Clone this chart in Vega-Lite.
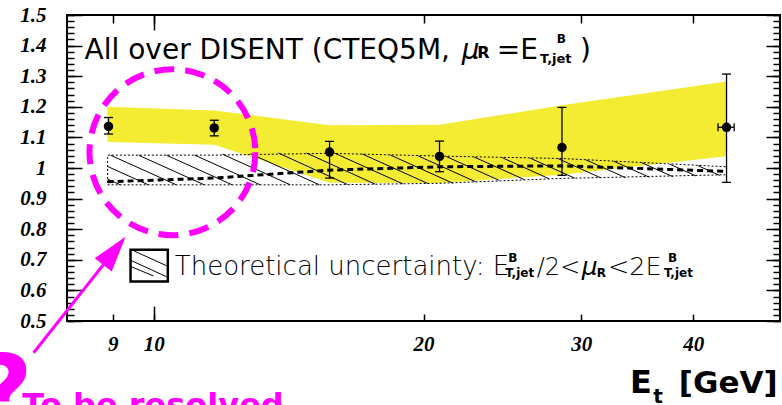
{
  "$schema": "https://vega.github.io/schema/vega-lite/v6.json",
  "width": 713,
  "height": 306,
  "autosize": {"type": "none"},
  "padding": {"left": 67, "top": 15, "right": 2, "bottom": 84},
  "background": "white",
  "config": {
    "view": {"stroke": "black", "strokeWidth": 2}
  },
  "resolve": {"axis": {"x": "independent", "y": "independent"}},
  "layer": [
    {
      "data": {"values": [
        {"et": 8.88, "lo": 1.085, "hi": 1.2},
        {"et": 11.68, "lo": 1.076, "hi": 1.188},
        {"et": 15.71, "lo": 0.952, "hi": 1.14},
        {"et": 20.84, "lo": 0.951, "hi": 1.141},
        {"et": 28.55, "lo": 0.978, "hi": 1.205},
        {"et": 43.58, "lo": 1.038, "hi": 1.283}
      ]},
      "mark": {"type": "area", "color": "#f4ec32", "opacity": 1},
      "encoding": {
        "x": {"field": "et", "type": "quantitative", "scale": {"type": "log", "domain": [8, 50], "nice": false, "zero": false},
              "axis": {"orient": "bottom", "values": [9, 10, 20, 30, 40], "format": "~g", "tickSize": -7, "tickWidth": 1.5, "tickColor": "black", "labelPadding": 19, "title": null, "grid": false, "domain": false, "labelFont": "Liberation Serif", "labelFontWeight": "bold", "labelFontStyle": "italic", "labelFontSize": 21, "labelColor": "black", "labelFlush": false, "labelOverlap": false, "labelBound": false}},
        "y": {"field": "lo", "type": "quantitative", "scale": {"domain": [0.5, 1.5], "nice": false, "zero": false},
              "axis": {"orient": "left", "values": [0.5, 0.6, 0.7, 0.8, 0.9, 1, 1.1, 1.2, 1.3, 1.4, 1.5], "format": "~g", "tickSize": -15, "tickWidth": 1.5, "tickColor": "black", "labelPadding": 36, "labelBaseline": "middle", "title": null, "grid": false, "domain": false, "labelFont": "Liberation Serif", "labelFontWeight": "bold", "labelFontStyle": "italic", "labelFontSize": 21, "labelColor": "black", "labelFlush": false, "labelOverlap": false, "labelBound": false}},
        "y2": {"field": "hi"}
      }
    },
    {
      "data": {"values": [
        {"x1": 8.879, "y1": 0.9637, "x2": 9.171, "y2": 0.9454},
        {"x1": 8.879, "y1": 1.0051, "x2": 9.855, "y2": 0.9454},
        {"x1": 8.948, "y1": 1.0418, "x2": 10.589, "y2": 0.9454},
        {"x1": 9.615, "y1": 1.0418, "x2": 11.378, "y2": 0.9454},
        {"x1": 10.331, "y1": 1.0418, "x2": 12.226, "y2": 0.9454},
        {"x1": 11.101, "y1": 1.0425, "x2": 13.138, "y2": 0.9454},
        {"x1": 11.929, "y1": 1.0451, "x2": 14.197, "y2": 0.9454},
        {"x1": 12.818, "y1": 1.0467, "x2": 15.298, "y2": 0.9454},
        {"x1": 13.773, "y1": 1.049, "x2": 16.438, "y2": 0.9464},
        {"x1": 14.8, "y1": 1.049, "x2": 17.668, "y2": 0.9471},
        {"x1": 15.902, "y1": 1.049, "x2": 18.97, "y2": 0.948},
        {"x1": 17.088, "y1": 1.0458, "x2": 20.222, "y2": 0.9493},
        {"x1": 18.361, "y1": 1.0425, "x2": 21.569, "y2": 0.9503},
        {"x1": 19.73, "y1": 1.0395, "x2": 22.857, "y2": 0.9552},
        {"x1": 21.201, "y1": 1.0376, "x2": 24.272, "y2": 0.9601},
        {"x1": 22.781, "y1": 1.0359, "x2": 25.901, "y2": 0.9624},
        {"x1": 24.478, "y1": 1.034, "x2": 27.61, "y2": 0.965},
        {"x1": 26.303, "y1": 1.0324, "x2": 29.501, "y2": 0.9667},
        {"x1": 28.263, "y1": 1.0307, "x2": 31.514, "y2": 0.9683},
        {"x1": 30.37, "y1": 1.0265, "x2": 33.62, "y2": 0.9683},
        {"x1": 32.633, "y1": 1.0219, "x2": 35.729, "y2": 0.9699},
        {"x1": 35.065, "y1": 1.017, "x2": 37.96, "y2": 0.9716},
        {"x1": 37.679, "y1": 1.0124, "x2": 40.3, "y2": 0.9739},
        {"x1": 40.487, "y1": 1.0078, "x2": 42.818, "y2": 0.9758}
      ]},
      "mark": {"type": "rule", "color": "black", "strokeWidth": 1},
      "encoding": {
        "x": {"field": "x1", "type": "quantitative", "scale": {"type": "log", "domain": [8, 50], "nice": false, "zero": false},
              "axis": {"orient": "bottom", "values": [10], "tickSize": -15, "tickWidth": 1.5, "tickColor": "black", "labels": false, "title": null, "grid": false, "domain": false}},
        "y": {"field": "y1", "type": "quantitative", "scale": {"domain": [0.5, 1.5], "nice": false, "zero": false},
              "axis": {"orient": "left", "values": [0.5,0.52,0.54,0.56,0.58,0.6,0.62,0.64,0.66,0.68,0.7,0.72,0.74,0.76,0.78,0.8,0.82,0.84,0.86,0.88,0.9,0.92,0.94,0.96,0.98,1,1.02,1.04,1.06,1.08,1.1,1.12,1.14,1.16,1.18,1.2,1.22,1.24,1.26,1.28,1.3,1.32,1.34,1.36,1.38,1.4,1.42,1.44,1.46,1.48,1.5], "tickSize": -7, "tickWidth": 1.5, "tickColor": "black", "labels": false, "title": null, "grid": false, "domain": false}},
        "x2": {"field": "x2"},
        "y2": {"field": "y2"}
      }
    },
    {
      "data": {"values": [
        {"et": 8.88, "lo": 0.945, "hi": 1.042},
        {"et": 11.68, "lo": 0.945, "hi": 1.042},
        {"et": 15.71, "lo": 0.945, "hi": 1.048},
        {"et": 20.84, "lo": 0.95, "hi": 1.039},
        {"et": 28.55, "lo": 0.966, "hi": 1.031},
        {"et": 43.58, "lo": 0.978, "hi": 1.004}
      ]},
      "mark": {"type": "area", "fill": "white", "fillOpacity": 0, "stroke": "black", "strokeWidth": 1, "strokeDash": [2, 2]},
      "encoding": {
        "x": {"field": "et", "type": "quantitative", "scale": {"type": "log", "domain": [8, 50], "nice": false, "zero": false},
              "axis": {"orient": "top", "values": [9, 10, 20, 30, 40], "tickSize": -8, "tickWidth": 1.5, "tickColor": "black", "labels": false, "title": null, "grid": false, "domain": false}},
        "y": {"field": "lo", "type": "quantitative", "scale": {"domain": [0.5, 1.5], "nice": false, "zero": false},
              "axis": {"orient": "right", "values": [0.5, 0.6, 0.7, 0.8, 0.9, 1, 1.1, 1.2, 1.3, 1.4, 1.5], "tickSize": -14, "tickWidth": 1.5, "tickColor": "black", "labels": false, "title": null, "grid": false, "domain": false}},
        "y2": {"field": "hi"}
      }
    },
    {
      "data": {"values": [
        {"et": 8.88, "c": 0.955},
        {"et": 11.68, "c": 0.967},
        {"et": 15.71, "c": 0.993},
        {"et": 20.84, "c": 1.004},
        {"et": 28.55, "c": 1.007},
        {"et": 43.58, "c": 0.989}
      ]},
      "mark": {"type": "line", "color": "black", "strokeWidth": 3, "strokeDash": [6, 4]},
      "encoding": {
        "x": {"field": "et", "type": "quantitative", "scale": {"type": "log", "domain": [8, 50], "nice": false, "zero": false},
              "axis": {"orient": "top", "values": [10], "tickSize": -15, "tickWidth": 1.5, "tickColor": "black", "labels": false, "title": null, "grid": false, "domain": false}},
        "y": {"field": "c", "type": "quantitative", "scale": {"domain": [0.5, 1.5], "nice": false, "zero": false},
              "axis": {"orient": "right", "values": [0.5,0.52,0.54,0.56,0.58,0.6,0.62,0.64,0.66,0.68,0.7,0.72,0.74,0.76,0.78,0.8,0.82,0.84,0.86,0.88,0.9,0.92,0.94,0.96,0.98,1,1.02,1.04,1.06,1.08,1.1,1.12,1.14,1.16,1.18,1.2,1.22,1.24,1.26,1.28,1.3,1.32,1.34,1.36,1.38,1.4,1.42,1.44,1.46,1.48,1.5], "tickSize": -7, "tickWidth": 1.5, "tickColor": "black", "labels": false, "title": null, "grid": false, "domain": false}}
      }
    },
    {
      "mark": {"type": "rule", "color": "black", "strokeWidth": 2.5},
      "encoding": {
        "y": {"datum": 1, "type": "quantitative", "scale": {"domain": [0.5, 1.5], "nice": false, "zero": false}, "axis": null}
      }
    },
    {
      "data": {"name": "pts", "values": [
        {"et": 8.9, "r": 1.136, "lo": 1.111, "hi": 1.165},
        {"et": 11.68, "r": 1.131, "lo": 1.105, "hi": 1.156},
        {"et": 15.71, "r": 1.052, "lo": 0.967, "hi": 1.087},
        {"et": 20.84, "r": 1.038, "lo": 0.988, "hi": 1.088},
        {"et": 28.55, "r": 1.067, "lo": 0.976, "hi": 1.198},
        {"et": 43.58, "r": 1.133, "lo": 0.953, "hi": 1.307, "xlo": 42.64, "xhi": 44.44}
      ]},
      "layer": [
        {
          "mark": {"type": "rule", "color": "black", "strokeWidth": 1.3},
          "encoding": {
            "x": {"field": "et", "type": "quantitative", "scale": {"type": "log", "domain": [8, 50], "nice": false, "zero": false}, "axis": null},
            "y": {"field": "lo", "type": "quantitative", "scale": {"domain": [0.5, 1.5], "nice": false, "zero": false}, "axis": null},
            "y2": {"field": "hi"}
          }
        },
        {
          "mark": {"type": "tick", "orient": "horizontal", "size": 9, "thickness": 1.3, "color": "black", "opacity": 1},
          "encoding": {
            "x": {"field": "et", "type": "quantitative", "axis": null},
            "y": {"field": "lo", "type": "quantitative", "axis": null}
          }
        },
        {
          "mark": {"type": "tick", "orient": "horizontal", "size": 9, "thickness": 1.3, "color": "black", "opacity": 1},
          "encoding": {
            "x": {"field": "et", "type": "quantitative", "axis": null},
            "y": {"field": "hi", "type": "quantitative", "axis": null}
          }
        },
        {
          "transform": [{"filter": "isValid(datum.xlo)"}],
          "mark": {"type": "rule", "color": "black", "strokeWidth": 1.3},
          "encoding": {
            "x": {"field": "xlo", "type": "quantitative", "axis": null},
            "x2": {"field": "xhi"},
            "y": {"field": "r", "type": "quantitative", "axis": null}
          }
        },
        {
          "transform": [{"filter": "isValid(datum.xlo)"}],
          "mark": {"type": "tick", "orient": "vertical", "size": 8, "thickness": 1.3, "color": "black", "opacity": 1},
          "encoding": {
            "x": {"field": "xlo", "type": "quantitative", "axis": null},
            "y": {"field": "r", "type": "quantitative", "axis": null}
          }
        },
        {
          "transform": [{"filter": "isValid(datum.xlo)"}],
          "mark": {"type": "tick", "orient": "vertical", "size": 8, "thickness": 1.3, "color": "black", "opacity": 1},
          "encoding": {
            "x": {"field": "xhi", "type": "quantitative", "axis": null},
            "y": {"field": "r", "type": "quantitative", "axis": null}
          }
        },
        {
          "mark": {"type": "point", "shape": "circle", "filled": true, "size": 90, "color": "black", "opacity": 1},
          "encoding": {
            "x": {"field": "et", "type": "quantitative", "axis": null},
            "y": {"field": "r", "type": "quantitative", "axis": null}
          }
        }
      ]
    },
    {
      "data": {"values": [{"x1": 9.419, "x2": 10.366, "y1": 0.733, "y2": 0.6294}]},
      "mark": {"type": "rect", "fill": "white", "stroke": "black", "strokeWidth": 2.5},
      "encoding": {
        "x": {"field": "x1", "type": "quantitative", "scale": {"type": "log", "domain": [8, 50], "nice": false, "zero": false}, "axis": null},
        "x2": {"field": "x2"},
        "y": {"field": "y1", "type": "quantitative", "scale": {"domain": [0.5, 1.5], "nice": false, "zero": false}, "axis": null},
        "y2": {"field": "y2"}
      }
    },
    {
      "data": {"values": [
        {"x1": 9.492, "y1": 0.7297, "x2": 10.331, "y2": 0.6807},
        {"x1": 9.444, "y1": 0.697, "x2": 10.331, "y2": 0.6447},
        {"x1": 9.444, "y1": 0.6771, "x2": 9.992, "y2": 0.6471}
      ]},
      "mark": {"type": "rule", "color": "black", "strokeWidth": 1},
      "encoding": {
        "x": {"field": "x1", "type": "quantitative", "scale": {"type": "log", "domain": [8, 50], "nice": false, "zero": false}, "axis": null},
        "x2": {"field": "x2"},
        "y": {"field": "y1", "type": "quantitative", "scale": {"domain": [0.5, 1.5], "nice": false, "zero": false}, "axis": null},
        "y2": {"field": "y2"}
      }
    },
    {
      "data": {"values": [
        {"t": "All over DISENT (CTEQ5M, ", "x": 8.37, "y": 1.3556},
        {"t": "=E", "x": 24.15, "y": 1.3556},
        {"t": ")", "x": 29.91, "y": 1.3556}
      ]},
      "mark": {"type": "text", "align": "left", "baseline": "alphabetic", "font": "DejaVu Sans", "fontSize": 28, "color": "black"},
      "encoding": {
        "x": {"field": "x", "type": "quantitative", "scale": {"type": "log", "domain": [8, 50], "nice": false, "zero": false}, "axis": null},
        "y": {"field": "y", "type": "quantitative", "scale": {"domain": [0.5, 1.5], "nice": false, "zero": false}, "axis": null},
        "text": {"field": "t"}
      }
    },
    {
      "data": {"values": [
        {"t": "Theoretical uncertainty: E", "x": 10.554, "y": 0.6513, "s": 26},
        {"t": "/2<", "x": 26.76, "y": 0.6513, "s": 24},
        {"t": "<2E", "x": 32.13, "y": 0.6513, "s": 25.5}
      ]},
      "mark": {"type": "text", "align": "left", "baseline": "alphabetic", "font": "DejaVu Sans", "fontWeight": 200, "color": "black"},
      "encoding": {
        "x": {"field": "x", "type": "quantitative", "scale": {"type": "log", "domain": [8, 50], "nice": false, "zero": false}, "axis": null},
        "y": {"field": "y", "type": "quantitative", "scale": {"domain": [0.5, 1.5], "nice": false, "zero": false}, "axis": null},
        "text": {"field": "t"},
        "size": {"field": "s", "type": "quantitative", "scale": null, "legend": null}
      }
    },
    {
      "data": {"values": [
        {"t": "μ", "x": 22.07, "y": 1.3556, "s": 28},
        {"t": "μ", "x": 30.04, "y": 0.6513, "s": 25}
      ]},
      "mark": {"type": "text", "align": "left", "baseline": "alphabetic", "font": "DejaVu Sans", "fontStyle": "italic", "color": "black"},
      "encoding": {
        "x": {"field": "x", "type": "quantitative", "scale": {"type": "log", "domain": [8, 50], "nice": false, "zero": false}, "axis": null},
        "y": {"field": "y", "type": "quantitative", "scale": {"domain": [0.5, 1.5], "nice": false, "zero": false}, "axis": null},
        "text": {"field": "t"},
        "size": {"field": "s", "type": "quantitative", "scale": null, "legend": null}
      }
    },
    {
      "data": {"values": [
        {"t": "R", "x": 22.96, "y": 1.3605, "s": 16},
        {"t": "T,jet", "x": 26.99, "y": 1.3441, "s": 13},
        {"t": "B", "x": 28.17, "y": 1.4095, "s": 12},
        {"t": "T,jet", "x": 24.67, "y": 0.6448, "s": 12},
        {"t": "B", "x": 24.86, "y": 0.6938, "s": 12},
        {"t": "R", "x": 31.22, "y": 0.6448, "s": 12},
        {"t": "T,jet", "x": 37.1, "y": 0.6448, "s": 12},
        {"t": "B", "x": 37.49, "y": 0.6938, "s": 12},
        {"t": "E", "x": 34.0, "y": 0.2657, "s": 32},
        {"t": "t", "x": 36.1, "y": 0.233, "s": 20}
      ]},
      "mark": {"type": "text", "align": "left", "baseline": "alphabetic", "font": "DejaVu Sans", "fontWeight": "bold", "color": "black"},
      "encoding": {
        "x": {"field": "x", "type": "quantitative", "scale": {"type": "log", "domain": [8, 50], "nice": false, "zero": false}, "axis": null},
        "y": {"field": "y", "type": "quantitative", "scale": {"domain": [0.5, 1.5], "nice": false, "zero": false}, "axis": null},
        "text": {"field": "t"},
        "size": {"field": "s", "type": "quantitative", "scale": null, "legend": null}
      }
    },
    {
      "data": {"values": [
        {"t": "[GeV]", "x": 49.7, "y": 0.2657}
      ]},
      "mark": {"type": "text", "align": "right", "baseline": "alphabetic", "font": "DejaVu Sans", "fontWeight": "bold", "fontSize": 31, "color": "black"},
      "encoding": {
        "x": {"field": "x", "type": "quantitative", "scale": {"type": "log", "domain": [8, 50], "nice": false, "zero": false}, "axis": null},
        "y": {"field": "y", "type": "quantitative", "scale": {"domain": [0.5, 1.5], "nice": false, "zero": false}, "axis": null},
        "text": {"field": "t"}
      }
    },
    {
      "data": {"values": [{"x": 10.49, "y": 1.0516}]},
      "mark": {"type": "point", "shape": "circle", "filled": false, "size": 27500, "strokeWidth": 6, "strokeDash": [20, 11], "color": "#ff00ff", "opacity": 1},
      "encoding": {
        "x": {"field": "x", "type": "quantitative", "scale": {"type": "log", "domain": [8, 50], "nice": false, "zero": false}, "axis": null},
        "y": {"field": "y", "type": "quantitative", "scale": {"domain": [0.5, 1.5], "nice": false, "zero": false}, "axis": null}
      }
    },
    {
      "data": {"values": [{"x": 7.343, "y": 0.3964}, {"x": 9.036, "y": 0.7294}]},
      "mark": {"type": "line", "color": "#ff00ff", "strokeWidth": 3},
      "encoding": {
        "x": {"field": "x", "type": "quantitative", "scale": {"type": "log", "domain": [8, 50], "nice": false, "zero": false}, "axis": null},
        "y": {"field": "y", "type": "quantitative", "scale": {"domain": [0.5, 1.5], "nice": false, "zero": false}, "axis": null}
      }
    },
    {
      "data": {"values": [{"x": 9.036, "y": 0.7294}]},
      "mark": {"type": "point", "shape": "M0,-1L-0.6,1L0.6,1Z", "filled": true, "size": 1296, "angle": 38.4, "color": "#ff00ff", "opacity": 1},
      "encoding": {
        "x": {"field": "x", "type": "quantitative", "scale": {"type": "log", "domain": [8, 50], "nice": false, "zero": false}, "axis": null},
        "y": {"field": "y", "type": "quantitative", "scale": {"domain": [0.5, 1.5], "nice": false, "zero": false}, "axis": null}
      }
    },
    {
      "data": {"values": [
        {"t": "To be resolved", "x": 7.133, "y": 0.19}
      ]},
      "mark": {"type": "text", "align": "left", "baseline": "alphabetic", "font": "DejaVu Sans", "fontWeight": "bold", "fontSize": 32, "color": "#ff00ff"},
      "encoding": {
        "x": {"field": "x", "type": "quantitative", "scale": {"type": "log", "domain": [8, 50], "nice": false, "zero": false}, "axis": null},
        "y": {"field": "y", "type": "quantitative", "scale": {"domain": [0.5, 1.5], "nice": false, "zero": false}, "axis": null},
        "text": {"field": "t"}
      }
    },
    {
      "data": {"values": [
        {"t": "?", "x": 7.324, "y": 0.158}
      ]},
      "mark": {"type": "text", "align": "right", "baseline": "alphabetic", "font": "DejaVu Sans", "fontWeight": "bold", "fontSize": 100, "color": "#ff00ff"},
      "encoding": {
        "x": {"field": "x", "type": "quantitative", "scale": {"type": "log", "domain": [8, 50], "nice": false, "zero": false}, "axis": null},
        "y": {"field": "y", "type": "quantitative", "scale": {"domain": [0.5, 1.5], "nice": false, "zero": false}, "axis": null},
        "text": {"field": "t"}
      }
    }
  ]
}
